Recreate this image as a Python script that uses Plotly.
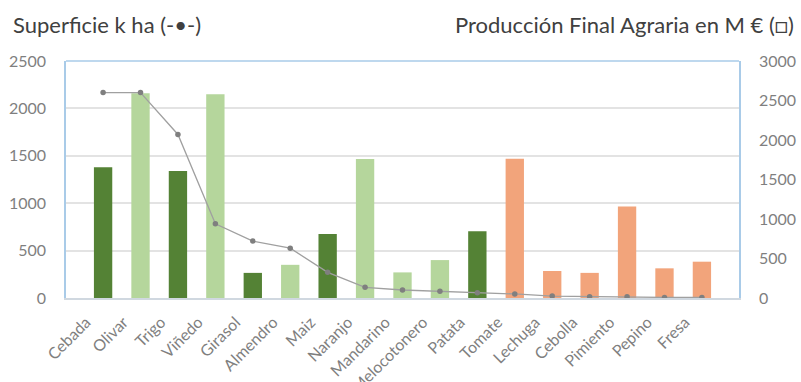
import plotly.graph_objects as go

categorias = ["Cebada", "Olivar", "Trigo", "Viñedo", "Girasol", "Almendro", "Maiz",
              "Naranjo", "Mandarino", "Melocotonero", "Patata", "Tomate", "Lechuga",
              "Cebolla", "Pimiento", "Pepino", "Fresa"]
pfa_meur = [1380, 2160, 1340, 2150, 265, 350, 675, 1465, 270, 400, 705, 1470, 285,
            265, 965, 313, 383]
superficie_kha = [2600, 2600, 2070, 940, 720, 630, 325, 135, 101, 85, 67, 51, 25,
                  17, 17, 7, 7]
grupo = ["cereal", "lenoso", "cereal", "lenoso", "cereal", "lenoso", "cereal",
         "lenoso", "lenoso", "lenoso", "cereal", "horta", "horta", "horta", "horta",
         "horta", "horta"]
colores_grupo = {"cereal": "#548235", "lenoso": "#B5D69C", "horta": "#F2A47B"}
ticks_izq = [0, 500, 1000, 1500, 2000, 2500]
ticks_der = [0, 500, 1000, 1500, 2000, 2500, 3000]

FONT = "Lato"
fig = go.Figure()
fig.add_trace(go.Bar(
    x=categorias, y=pfa_meur, yaxis="y",
    marker=dict(color=[colores_grupo[g] for g in grupo], line=dict(width=0)),
    showlegend=False,
))
fig.add_trace(go.Scatter(
    x=categorias, y=superficie_kha, yaxis="y2", mode="lines+markers",
    line=dict(color="#A0A0A0", width=1.3),
    marker=dict(color="#7F7F7F", size=5.5),
    showlegend=False,
))

fig.update_layout(
    width=801, height=382,
    margin=dict(l=66, r=62, t=61, b=84, autoexpand=False),
    paper_bgcolor="white", plot_bgcolor="white",
    bargap=0.51,
    font=dict(family=FONT, color="#7F7F7F"),
    xaxis=dict(
        tickangle=-45, tickfont=dict(size=16, color="#7F7F7F"),
        showgrid=False, showline=True, linecolor="#D0D8E0", linewidth=1.5,
        ticks="", ticklabelstandoff=7, ticklabelshift=-17, automargin=False,
    ),
    yaxis=dict(
        range=[0, 2500], tickvals=ticks_izq, ticktext=[str(v) for v in ticks_izq],
        tickfont=dict(size=16, color="#7F7F7F"),
        showgrid=True, gridcolor="#E3E3E3", gridwidth=1.5,
        showline=True, linecolor="#A9CBE8", linewidth=1.5,
        zeroline=False, ticklabelstandoff=15, automargin=False,
    ),
    yaxis2=dict(
        range=[0, 3000], tickvals=ticks_der, ticktext=[str(v) for v in ticks_der],
        tickfont=dict(size=16, color="#7F7F7F"),
        overlaying="y", side="right", showgrid=False,
        showline=True, linecolor="#A9CBE8", linewidth=1.5,
        zeroline=False, ticklabelstandoff=15, automargin=False,
    ),
    shapes=[dict(type="line", xref="paper", yref="paper", x0=0, x1=1, y0=1, y1=1,
                 line=dict(color="#A9CBE8", width=1.5))],
    annotations=[
        dict(text="Superficie k ha (-•-)", xref="paper", yref="paper", x=-0.082,
             y=1.0, yshift=37, xanchor="left", yanchor="middle", showarrow=False,
             font=dict(size=22, color="#404040", family=FONT)),
        dict(text="Producción Final Agraria en M € (□)", x=1.0, xshift=57, xref="paper",
             yref="paper", y=1.0, yshift=37, xanchor="right", yanchor="middle",
             showarrow=False, font=dict(size=22, color="#404040", family=FONT)),
    ],
)

fig.write_html("out.html")
